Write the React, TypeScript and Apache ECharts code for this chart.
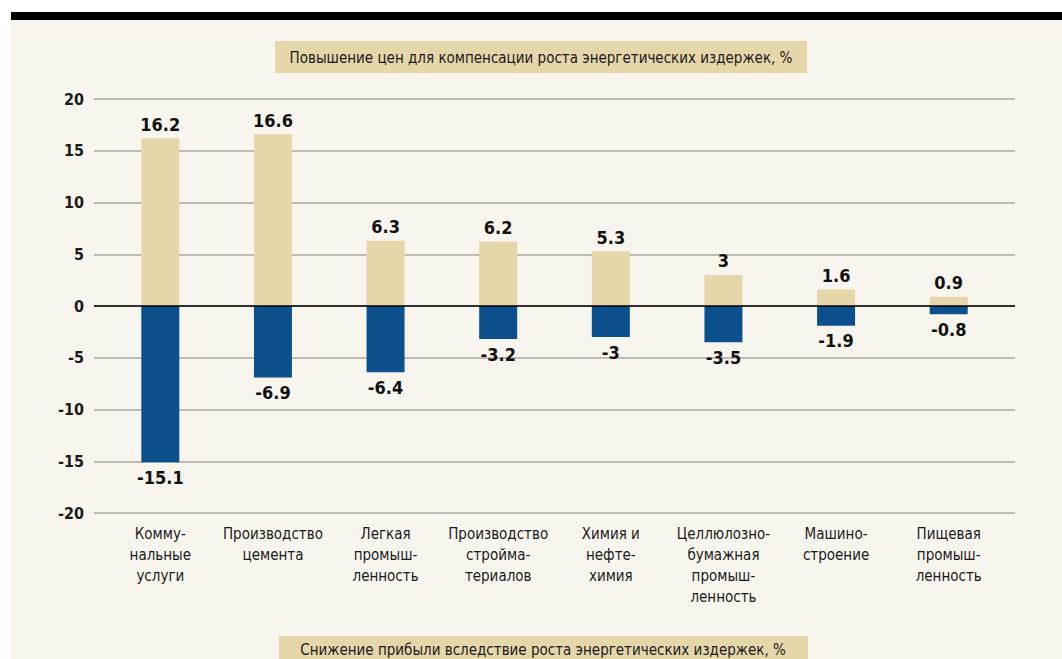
import React, { useEffect, useRef } from "react";
import * as echarts from "echarts";

const categories = [
  "Комму-\nнальные\nуслуги",
  "Производство\nцемента",
  "Легкая\nпромыш-\nленность",
  "Производство\nстройма-\nтериалов",
  "Химия и\nнефте-\nхимия",
  "Целлюлозно-\nбумажная\nпромыш-\nленность",
  "Машино-\nстроение",
  "Пищевая\nпромыш-\nленность",
];
const priceIncrease = [16.2, 16.6, 6.3, 6.2, 5.3, 3, 1.6, 0.9];
const profitDecrease = [-15.1, -6.9, -6.4, -3.2, -3, -3.5, -1.9, -0.8];
const yTicks = { min: -20, max: 20, interval: 5 };
const topTitle = "Повышение цен для компенсации роста энергетических издержек, %";
const bottomTitle = "Снижение прибыли вследствие роста энергетических издержек, %";

const FONT = "'DejaVu Sans Condensed', 'Liberation Sans Narrow', 'Open Sans', sans-serif";
const TAN = "#e6d7aa";
const BLUE = "#0c4f8d";
const CREAM = "#f8f5ee";

export default function App() {
  const ref = useRef<HTMLDivElement>(null);
  useEffect(() => {
    const chart = echarts.init(ref.current!, null, { renderer: "svg" });
    const fmt = (p: any) => String(p.value);
    chart.setOption({
      animation: false,
      backgroundColor: "#ffffff",
      textStyle: { fontFamily: FONT },
      graphic: [
        { type: "rect", z: -10, shape: { x: 11, y: 12, width: 1051, height: 8 }, style: { fill: "#000" } },
        { type: "rect", z: -10, shape: { x: 11, y: 20, width: 1051, height: 639 }, style: { fill: CREAM } },
        {
          type: "group",
          children: [
            { type: "rect", shape: { x: 275, y: 41, width: 532, height: 32 }, style: { fill: TAN } },
            {
              type: "text",
              x: 541,
              y: 58,
              style: { text: topTitle, fill: "#1a1a1a", font: `15px ${FONT}`, align: "center", verticalAlign: "middle" },
            },
            { type: "rect", shape: { x: 279, y: 636, width: 529, height: 30 }, style: { fill: TAN } },
            {
              type: "text",
              x: 543,
              y: 650,
              style: { text: bottomTitle, fill: "#1a1a1a", font: `15px ${FONT}`, align: "center", verticalAlign: "middle" },
            },
          ],
        },
      ],
      grid: [
        { left: 104, width: 901, top: 99, height: 414 },
        { left: 94, width: 921, top: 99, height: 414 },
      ],
      xAxis: [
        {
          type: "category",
          gridIndex: 0,
          data: categories,
          axisLine: { show: false },
          axisTick: { show: false },
          axisLabel: { color: "#1a1a1a", fontSize: 15, lineHeight: 21, margin: 10, interval: 0, fontFamily: FONT },
        },
        { type: "category", gridIndex: 1, data: [""], show: false },
      ],
      yAxis: [
        {
          type: "value",
          gridIndex: 0,
          ...yTicks,
          show: false,
          splitLine: { show: false },
        },
        {
          type: "value",
          gridIndex: 1,
          ...yTicks,
          axisLine: { show: false },
          axisTick: { show: false },
          splitLine: { lineStyle: { color: "#a9a7a2", width: 1.5 } },
          axisLabel: { color: "#1a1a1a", fontSize: 16, fontWeight: "bold", margin: 10, fontFamily: FONT },
        },
      ],
      series: [
        {
          type: "bar",
          xAxisIndex: 0,
          yAxisIndex: 0,
          data: priceIncrease,
          barWidth: 38,
          barGap: "-100%",
          itemStyle: { color: TAN },
          label: { show: true, position: "top", distance: 5, formatter: fmt, color: "#111", fontSize: 18, fontWeight: "bold", fontFamily: FONT },
          z: 3,
        },
        {
          type: "bar",
          xAxisIndex: 0,
          yAxisIndex: 0,
          data: profitDecrease,
          barWidth: 38,
          barGap: "-100%",
          itemStyle: { color: BLUE },
          label: { show: true, position: "bottom", distance: 6, formatter: fmt, color: "#111", fontSize: 18, fontWeight: "bold", fontFamily: FONT },
          z: 3,
        },
        {
          type: "line",
          xAxisIndex: 1,
          yAxisIndex: 1,
          data: [],
          markLine: {
            silent: true,
            symbol: "none",
            label: { show: false },
            lineStyle: { color: "#000", width: 1.5, type: "solid" },
            data: [{ yAxis: 0 }],
          },
          z: 4,
        },
      ],
    });
    return () => chart.dispose();
  }, []);
  return (
    <div
      ref={ref}
      style={{ position: "fixed", left: 0, top: 0, width: 1062, height: 659 }}
    />
  );
}
